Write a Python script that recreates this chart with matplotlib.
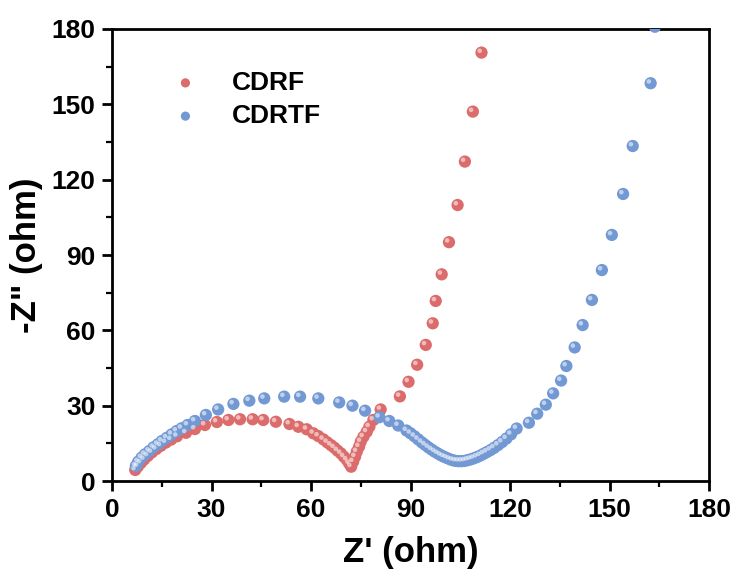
import matplotlib
matplotlib.use('Agg')
import matplotlib.pyplot as plt
from matplotlib.transforms import offset_copy

# Nyquist data
cdrf_x = [7.0, 7.8, 8.7, 9.7, 10.8, 12.0, 13.3, 14.7, 16.2, 17.8, 19.6, 22.3, 25.0, 28.0,
          31.6, 35.1, 38.6, 42.4, 45.6, 49.4, 53.5, 56.2, 58.7, 60.7, 62.2, 63.7, 64.9,
          66.0, 67.0, 68.0, 69.0, 69.9, 70.8, 71.5, 72.1, 72.7, 73.3, 73.8, 74.5, 75.0,
          75.8, 76.8, 77.6, 78.8, 81.0, 86.8, 89.4, 92.0, 94.6, 96.7, 97.6, 99.4, 101.6,
          104.2, 106.4, 108.8, 111.4]
cdrf_y = [4.4, 5.8, 7.2, 8.6, 10.0, 11.4, 12.7, 14.0, 15.3, 16.5, 17.8, 19.2, 20.7, 22.3,
          23.5, 24.3, 24.6, 24.6, 24.3, 23.6, 22.7, 21.6, 20.6, 19.0, 17.9, 16.6, 15.4,
          14.3, 13.3, 12.1, 11.0, 9.7, 8.4, 7.0, 5.7, 7.7, 9.7, 11.7, 13.7, 15.7,
          17.6, 19.6, 21.6, 24.3, 28.5, 33.7, 39.5, 46.3, 54.2, 62.8, 71.7, 82.3, 95.1,
          109.9, 127.2, 147.1, 170.6]

cdrtf_x = [7.2, 7.9, 8.9, 9.9, 11.2, 12.5, 13.8, 15.0, 16.5, 18.0, 19.5, 21.0, 22.8, 25.0,
           28.3, 32.0, 36.6, 41.4, 45.9, 51.9, 56.7, 62.2, 68.5, 72.5, 76.3, 80.6, 83.6,
           86.3, 88.8, 90.0, 91.2, 92.3, 93.4, 94.4, 95.4, 96.4, 97.3, 98.2, 99.1, 100.0,
           100.9, 101.8, 102.7, 103.6, 104.5, 105.4, 106.3, 107.2, 108.1, 109.0, 110.0,
           111.0, 112.0, 113.0, 114.1, 115.2, 116.4, 117.6, 118.9, 120.3, 122.0, 125.7,
           128.2, 130.8, 133.0, 135.4, 137.0, 139.5, 141.9, 144.7, 147.7, 150.7, 154.1,
           157.0, 162.4, 163.7]
cdrtf_y = [6.0, 7.7, 9.3, 10.6, 11.9, 13.4, 14.6, 15.9, 17.2, 18.6, 19.9, 21.0, 22.3, 23.9,
           26.3, 28.5, 30.7, 32.0, 32.9, 33.6, 33.6, 32.9, 31.3, 30.0, 28.0, 25.4, 23.9,
           22.1, 20.1, 19.0, 17.8, 16.6, 15.4, 14.4, 13.4, 12.5, 11.7, 11.0, 10.3, 9.7,
           9.2, 8.7, 8.3, 8.0, 7.9, 7.9, 8.0, 8.3, 8.6, 9.0, 9.5,
           10.1, 10.8, 11.5, 12.3, 13.2, 14.3, 15.5, 16.9, 18.6, 20.9, 23.2,
           26.8, 30.4, 34.9, 40.0, 45.8, 53.2, 62.1, 72.1, 84.0, 98.0, 114.3,
           133.4, 158.4, 180.9]

ticks = [0, 30, 60, 90, 120, 150, 180]

plt.rcParams['font.family'] = ['Liberation Sans', 'DejaVu Sans']
plt.rcParams['font.weight'] = 'bold'

fig = plt.figure(figsize=(7.38, 5.81), dpi=100)
ax = fig.add_axes([0.1518, 0.1721, 0.8089, 0.778])

red = '#dc6b6c'
blue = '#7299d4'

# spheres: base ball plus a small highlight shifted up-left
hl = offset_copy(ax.transData, fig=fig, x=-1.3, y=1.3, units='points')
for xs, ys, c, lab in [(cdrf_x, cdrf_y, red, 'CDRF'), (cdrtf_x, cdrtf_y, blue, 'CDRTF')]:
    ax.scatter(xs, ys, s=78, color=c, edgecolors='none', label=lab, zorder=3)
    ax.scatter(xs, ys, s=11, color='white', alpha=0.55, edgecolors='none',
               transform=hl, zorder=4)

ax.set_xlim(0, 180)
ax.set_ylim(0, 180)
ax.set_xticks(ticks)
ax.set_yticks(ticks)
ax.set_xticks(range(15, 180, 30), minor=True)
ax.set_yticks(range(15, 180, 30), minor=True)
ax.tick_params(which='major', direction='out', length=7, width=2, labelsize=19, pad=5)
ax.tick_params(which='minor', direction='out', length=4, width=1.6)
for s in ax.spines.values():
    s.set_linewidth(2)

ax.set_xlabel("Z' (ohm)", fontsize=25, fontweight='bold', labelpad=10)
ax.set_ylabel('-Z" (ohm)', fontsize=25, fontweight='bold', labelpad=6)

ax.legend(loc='upper left', bbox_to_anchor=(0.05, 0.96), frameon=False, fontsize=19,
          markerscale=0.75, handletextpad=1.0, labelspacing=0.35, handlelength=1.5)

fig.savefig('out.png', dpi=100)
